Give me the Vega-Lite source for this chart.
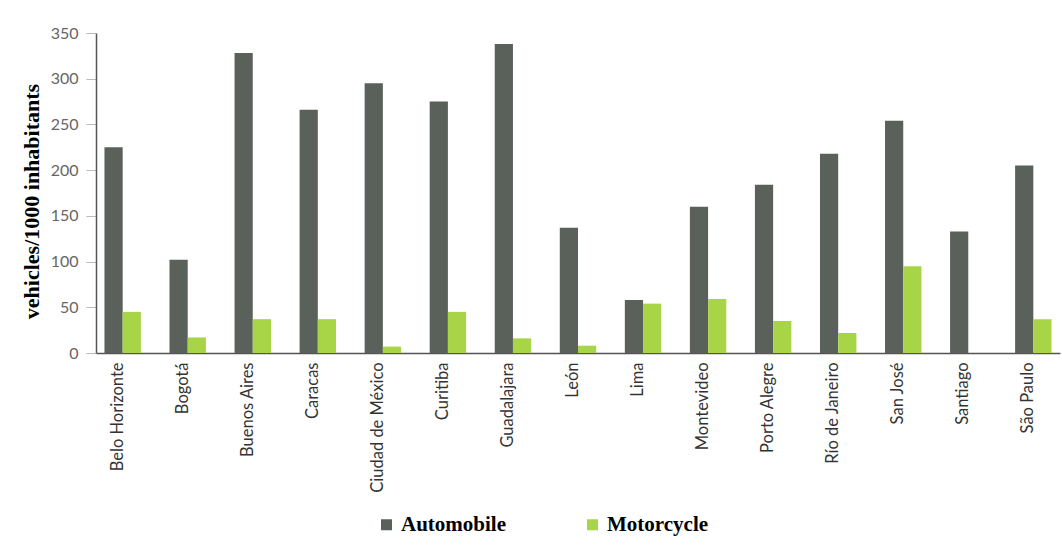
{
  "$schema": "https://vega.github.io/schema/vega-lite/v6.json",
  "width": 964,
  "height": 320,
  "autosize": "none",
  "padding": {"left": 96, "top": 33, "right": 2, "bottom": 192},
  "background": "white",
  "config": {"view": {"stroke": null}},
  "data": {
    "values": [
      {"city": "Belo Horizonte", "type": "Automobile", "value": 225},
      {"city": "Belo Horizonte", "type": "Motorcycle", "value": 45},
      {"city": "Bogotá", "type": "Automobile", "value": 102},
      {"city": "Bogotá", "type": "Motorcycle", "value": 17},
      {"city": "Buenos Aires", "type": "Automobile", "value": 328},
      {"city": "Buenos Aires", "type": "Motorcycle", "value": 37},
      {"city": "Caracas", "type": "Automobile", "value": 266},
      {"city": "Caracas", "type": "Motorcycle", "value": 37},
      {"city": "Ciudad de México", "type": "Automobile", "value": 295},
      {"city": "Ciudad de México", "type": "Motorcycle", "value": 7},
      {"city": "Curitiba", "type": "Automobile", "value": 275},
      {"city": "Curitiba", "type": "Motorcycle", "value": 45},
      {"city": "Guadalajara", "type": "Automobile", "value": 338},
      {"city": "Guadalajara", "type": "Motorcycle", "value": 16},
      {"city": "León", "type": "Automobile", "value": 137},
      {"city": "León", "type": "Motorcycle", "value": 8},
      {"city": "Lima", "type": "Automobile", "value": 58},
      {"city": "Lima", "type": "Motorcycle", "value": 54},
      {"city": "Montevideo", "type": "Automobile", "value": 160},
      {"city": "Montevideo", "type": "Motorcycle", "value": 59},
      {"city": "Porto Alegre", "type": "Automobile", "value": 184},
      {"city": "Porto Alegre", "type": "Motorcycle", "value": 35},
      {"city": "Río de Janeiro", "type": "Automobile", "value": 218},
      {"city": "Río de Janeiro", "type": "Motorcycle", "value": 22},
      {"city": "San José", "type": "Automobile", "value": 254},
      {"city": "San José", "type": "Motorcycle", "value": 95},
      {"city": "Santiago", "type": "Automobile", "value": 133},
      {"city": "Santiago", "type": "Motorcycle", "value": 0},
      {"city": "São Paulo", "type": "Automobile", "value": 205},
      {"city": "São Paulo", "type": "Motorcycle", "value": 37}
    ]
  },
  "mark": {"type": "bar"},
  "encoding": {
    "x": {
      "field": "city",
      "type": "nominal",
      "sort": null,
      "scale": {"paddingInner": 0.44, "paddingOuter": 0.13},
      "axis": {
        "title": null,
        "labelAngle": -90,
        "ticks": false,
        "labelPadding": 9,
        "labelOffset": -5,
        "labelFont": "Lato",
        "labelFontSize": 16.5,
        "labelColor": "#333333",
        "domainColor": "#555555",
        "domainWidth": 1.5
      }
    },
    "xOffset": {"field": "type", "type": "nominal", "scale": {"paddingInner": 0, "paddingOuter": 0}},
    "y": {
      "field": "value",
      "type": "quantitative",
      "scale": {"domain": [0, 350], "nice": false},
      "axis": {
        "title": "vehicles/1000 inhabitants",
        "titleFont": "Liberation Serif",
        "titleFontSize": 22,
        "titleFontWeight": "bold",
        "titleColor": "#000000",
        "titlePadding": 7,
        "titleY": 168,
        "values": [0, 50, 100, 150, 200, 250, 300, 350],
        "grid": false,
        "tickSize": 10,
        "tickColor": "#bbbbbb",
        "labelPadding": 8,
        "labelFont": "Lato",
        "labelFontSize": 16,
        "labelColor": "#666666",
        "domainColor": "#555555",
        "domainWidth": 1.5
      }
    },
    "color": {
      "field": "type",
      "type": "nominal",
      "scale": {"domain": ["Automobile", "Motorcycle"], "range": ["#59615a", "#a8d447"]},
      "legend": {
        "title": null,
        "orient": "none",
        "direction": "horizontal",
        "legendX": 280,
        "legendY": 481,
        "symbolType": "square",
        "symbolSize": 121,
        "symbolStrokeWidth": 0,
        "symbolOpacity": 1,
        "labelFont": "Liberation Serif",
        "labelFontSize": 21,
        "labelFontWeight": "bold",
        "labelColor": "#000000",
        "labelOffset": 4,
        "columnPadding": 76
      }
    }
  }
}
